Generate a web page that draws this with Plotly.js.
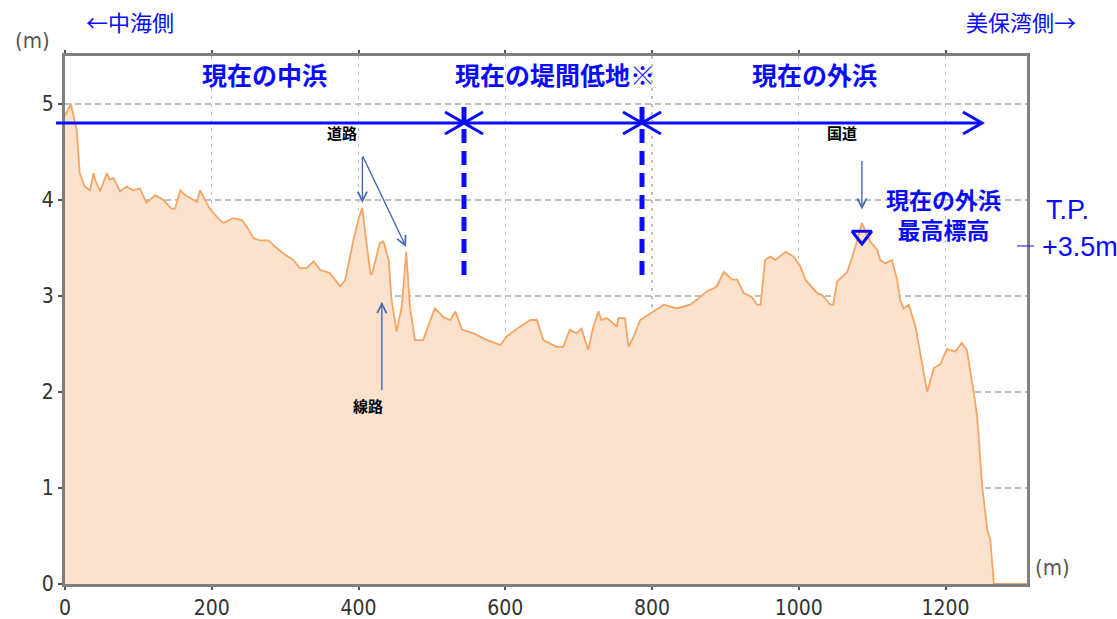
<!DOCTYPE html>
<html><head><meta charset="utf-8">
<script src="https://cdn.plot.ly/plotly-3.0.1.min.js"></script>
<style>html,body{margin:0;padding:0;background:#fff;}#chart{width:1117px;height:619px;}</style>
</head><body><div id="chart"></div>
<script>
// Distance from the Nakaumi side (m)
const distance = [0,8,16,20,27,34,39,41,48,57,61,66,75,84,93,102,111,123,134,145,150,157,164,175,180,184,189,198,211,216,229,241,248,257,266,277,284,298,311,320,329,339,348,361,375,382,393,400,405,416,418,429,434,441,445,452,459,465,470,477,488,504,516,525,532,541,557,575,593,602,616,634,643,652,670,679,688,697,704,713,720,727,731,738,745,752,754,763,768,775,784,798,807,816,834,852,861,875,884,888,898,909,916,925,936,943,948,954,961,968,982,993,1002,1009,1025,1032,1043,1047,1052,1066,1077,1086,1097,1107,1111,1118,1127,1134,1138,1143,1150,1159,1168,1175,1184,1193,1202,1213,1222,1229,1238,1243,1250,1257,1261,1266,1311];
// Elevation (m)
const elevation = [4.88,5.00,4.73,4.28,4.14,4.10,4.28,4.21,4.09,4.28,4.21,4.23,4.09,4.14,4.10,4.12,3.97,4.05,4.00,3.91,3.91,4.10,4.05,4.00,3.98,4.10,4.03,3.90,3.79,3.76,3.81,3.79,3.72,3.60,3.58,3.58,3.53,3.44,3.375,3.29,3.29,3.36,3.27,3.24,3.10,3.17,3.58,3.80,3.92,3.24,3.22,3.55,3.57,3.375,2.96,2.63,2.89,3.46,2.89,2.54,2.54,2.87,2.78,2.75,2.84,2.65,2.61,2.54,2.49,2.58,2.66,2.75,2.75,2.54,2.47,2.47,2.65,2.61,2.66,2.44,2.68,2.84,2.75,2.77,2.73,2.68,2.77,2.77,2.47,2.58,2.75,2.82,2.87,2.91,2.87,2.91,2.96,3.05,3.08,3.10,3.25,3.17,3.17,3.03,2.99,2.91,2.91,3.375,3.41,3.375,3.46,3.41,3.31,3.17,3.03,3.01,2.91,2.91,3.15,3.25,3.51,3.76,3.57,3.48,3.375,3.34,3.375,3.17,2.96,2.87,2.91,2.68,2.30,2.00,2.25,2.29,2.45,2.42,2.51,2.44,2.02,1.75,1.01,0.56,0.46,0,0];
// Highest point marker of the current outer beach
const peakMarkerX = [1086];
const peakMarkerY = [3.63];
// Axis ticks
const xTicks = [0,200,400,600,800,1000,1200];
const yTicks = [0,1,2,3,4,5];
const sectionLabels = ['現在の中浜','現在の堤間低地※','現在の外浜'];
const sectionLabelX = [272,668,1022];

const BLUE = '#0a0aff';
const JP = '"Noto Sans CJK JP", sans-serif';
const L = 65, T = 56, W = 962, H = 528;
const px = v => (v - L) / W;          // pixel x -> paper x
const py = v => (T + H - v) / H;      // pixel y -> paper y

const traces = [
  {x: distance, y: elevation, type: 'scatter', mode: 'lines', fill: 'tozeroy',
   fillcolor: 'rgba(251,226,204,1)', line: {color: '#f4a565', width: 1.8}, hoverinfo: 'skip'},
  {x: peakMarkerX, y: peakMarkerY, type: 'scatter', mode: 'markers', cliponaxis: false,
   marker: {symbol: 'triangle-down-open', size: 17, color: BLUE, line: {color: BLUE, width: 3}}, hoverinfo: 'skip'}
];

function chevron(tipX, tipY, dir) { // dir = +1 points right, -1 points left
  const dx = 19 * dir, dy = 11;
  return {type: 'path', xref: 'paper', yref: 'paper', line: {color: BLUE, width: 3},
    path: `M ${px(tipX - dx)} ${py(tipY - dy)} L ${px(tipX)} ${py(tipY)} L ${px(tipX - dx)} ${py(tipY + dy)}`};
}

const shapes = [
  {type: 'line', xref: 'paper', yref: 'paper', x0: px(56), x1: px(982), y0: py(123), y1: py(123), line: {color: BLUE, width: 3}},
  chevron(464, 123, 1), chevron(464, 123, -1),
  chevron(642, 123, 1), chevron(642, 123, -1),
  chevron(982, 123, 1),
  {type: 'line', xref: 'paper', yref: 'paper', x0: px(464), x1: px(464), y0: py(107), y1: py(282), line: {color: BLUE, width: 5, dash: '14px,8px'}},
  {type: 'line', xref: 'paper', yref: 'paper', x0: px(642), x1: px(642), y0: py(107), y1: py(282), line: {color: BLUE, width: 5, dash: '14px,8px'}},
  {type: 'line', xref: 'paper', yref: 'paper', x0: px(1017), x1: px(1034), y0: py(246), y1: py(246), line: {color: BLUE, width: 1}}
];

const C = {xanchor: 'center', yanchor: 'middle', showarrow: false};
const annotations = [];
sectionLabels.forEach((t, i) => annotations.push(Object.assign({text: t, x: sectionLabelX[i], y: 5.31, xref: 'x', yref: 'y',
  font: {family: JP, size: 25, color: BLUE, weight: 'bold'}}, C)));
const arrowStyle = {showarrow: true, arrowhead: 5, arrowsize: 1.3, arrowwidth: 1.4, arrowcolor: '#4a6ab0', xref: 'x', yref: 'y', text: ''};
annotations.push(
  Object.assign({text: '←中海側', xref: 'paper', yref: 'paper', x: px(130), y: py(21), font: {family: JP, size: 22, color: BLUE}}, C),
  Object.assign({text: '美保湾側→', xref: 'paper', yref: 'paper', x: px(1021), y: py(21), font: {family: JP, size: 22, color: BLUE}}, C),
  Object.assign({text: '(m)', xref: 'paper', yref: 'paper', x: px(32), y: py(40), font: {family: '"DejaVu Sans Condensed", "DejaVu Sans"', size: 22, color: '#555'}}, C),
  Object.assign({text: '(m)', xref: 'paper', yref: 'paper', x: px(1052), y: py(567), font: {family: '"DejaVu Sans Condensed", "DejaVu Sans"', size: 22, color: '#555'}}, C),
  Object.assign({text: '現在の外浜<br>最高標高', xref: 'paper', yref: 'paper', x: px(943), y: py(214), font: {family: JP, size: 23, color: BLUE, weight: 'bold'}}, C),
  Object.assign({text: 'T.P.', xref: 'paper', yref: 'paper', x: px(1067), y: py(210), font: {family: 'Liberation Sans, Arial', size: 27, color: BLUE}}, C),
  Object.assign({text: '+3.5m', xref: 'paper', yref: 'paper', x: px(1040), y: py(247), font: {family: 'Liberation Sans, Arial', size: 27, color: BLUE}}, C, {xanchor: 'left'}),
  Object.assign({text: '道路', x: 378, y: 4.70, xref: 'x', yref: 'y', font: {family: JP, size: 15, color: '#000', weight: 'bold'}}, C),
  Object.assign({text: '国道', x: 1059, y: 4.70, xref: 'x', yref: 'y', font: {family: JP, size: 15, color: '#000', weight: 'bold'}}, C),
  Object.assign({text: '線路', x: 413, y: 1.86, xref: 'x', yref: 'y', font: {family: JP, size: 15, color: '#000', weight: 'bold'}}, C),
  Object.assign({x: 405.3, y: 3.97, ax: 0, ay: -48}, arrowStyle),
  Object.assign({x: 464.9, y: 3.51, ax: -44, ay: -92}, arrowStyle),
  Object.assign({x: 431.8, y: 2.94, ax: 0, ay: 90}, arrowStyle),
  Object.assign({x: 1086, y: 3.90, ax: 0, ay: -50}, arrowStyle)
);

const tickFont = {family: '"DejaVu Sans Condensed", "DejaVu Sans", sans-serif', size: 21, color: '#333'};
const layout = {
  width: 1117, height: 619,
  margin: {l: L, r: 1117 - L - W, t: T, b: 619 - T - H, pad: 0},
  paper_bgcolor: '#fff', plot_bgcolor: '#fff',
  showlegend: false,
  xaxis: {range: [0, 1311], tickvals: xTicks, ticktext: xTicks.map(String), showline: true, linewidth: 3, linecolor: '#7f7f7f',
    mirror: 'ticks', ticks: 'outside', ticklen: 3, tickwidth: 2, tickcolor: '#555', showgrid: true, gridcolor: '#c0c0c0', griddash: '3px,5px', gridwidth: 1.2,
    zeroline: false, tickfont: tickFont, fixedrange: true},
  yaxis: {range: [0, 5.5], tickvals: yTicks, ticktext: yTicks.map(String), showline: true, linewidth: 3, linecolor: '#7f7f7f',
    mirror: true, ticks: 'outside', ticklen: 4, tickwidth: 2, tickcolor: '#555', showgrid: true, gridcolor: '#c0c0c0', griddash: '6px,4px', gridwidth: 1.2,
    zeroline: false, tickfont: tickFont, fixedrange: true},
  shapes: shapes,
  annotations: annotations
};
Plotly.newPlot('chart', traces, layout, {displayModeBar: false, staticPlot: true});
</script>
</body></html>
